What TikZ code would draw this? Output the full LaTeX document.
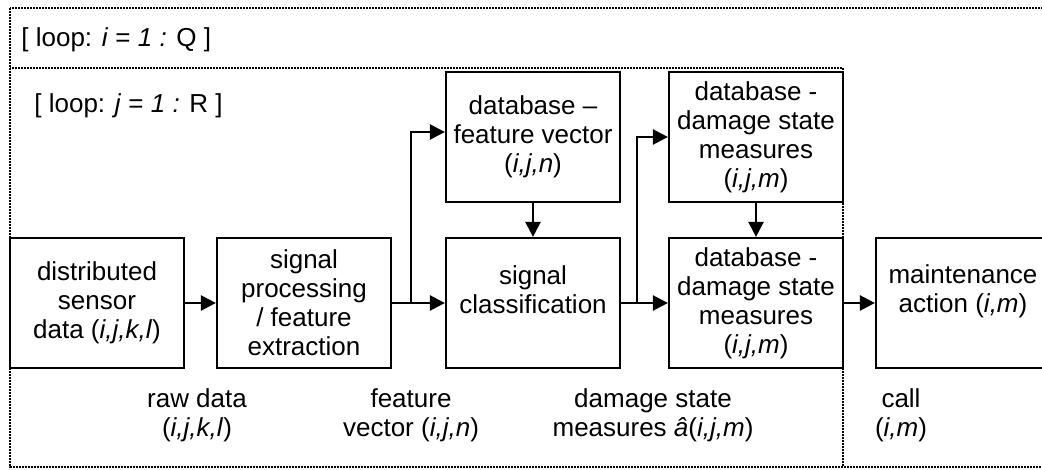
\documentclass[tikz,border=0pt]{standalone}
\usepackage{fontspec}
\setmainfont{Liberation Sans}
\usetikzlibrary{arrows.meta}

\begin{document}
\begin{tikzpicture}[x=0.5pt, y=-0.5pt,
    every node/.style={font=\fontsize{13}{14.5}\selectfont, align=center},
    block/.style={draw, line width=1.1pt, minimum width=87pt, minimum height=65pt, inner sep=0pt},
    flow/.style={line width=1.2pt, -{Triangle[length=7.5pt, width=7.5pt]}},
    loopbox/.style={line width=0.9pt, dash pattern=on 0.8pt off 0.7pt}]
    \useasboundingbox (0,0) rectangle (1042,470);
    % loops
    \draw[loopbox] (10,8) rectangle (1080,467);
    \draw[loopbox] (10,68) rectangle (843,467);
    \node[anchor=west, inner sep=0pt] (loopi) at (21,40) {[ loop: \textit{i} = \textit{1 :} Q ]};
    \node[anchor=west, inner sep=0pt] (loopj) at (34,106) {[ loop: \textit{j} = \textit{1 :} R ]};
    % blocks
    \node[block] (sensor) at (97,303) {distributed\\sensor\\data (\textit{i,j,k,l})};
    \node[block] (proc) at (304,303) {signal\\processing\\/ feature\\extraction};
    \node[block] (cls) at (533,303) {};
    \node (clstext) at ([yshift=6.5pt]cls.center) {signal\\classification};
    \node[block] (dbfv) at (533,137) {database --\\feature vector\\(\textit{i,j,n})};
    \node[block] (dbdt) at (756,137) {database -\\damage state\\measures\\(\textit{i,j,m})};
    \node[block] (dbdb) at (756,303) {database -\\damage state\\measures\\(\textit{i,j,m})};
    \node[block] (maint) at (963,303) {};
    \node (mainttext) at ([yshift=6pt]maint.center) {maintenance\\action (\textit{i,m})};
    % labels
    \node (raw) at (197,415) {raw data\\(\textit{i,j,k,l})};
    \node (fvlabel) at (411,415) {feature\\vector (\textit{i,j,n})};
    \node (dslabel) at (653,415) {damage state\\measures \textit{â}(\textit{i,j,m})};
    \node (calllabel) at (901,415) {call\\(\textit{i,m})};
    % arrows
    \coordinate (fork1) at (411,303);
    \coordinate (fork2) at (637,303);
    \draw[flow] (sensor) -- (proc);
    \draw[flow] (proc) -- (cls);
    \draw[flow] (fork1) |- ([yshift=2.5pt]dbfv.west);
    \draw[flow] (dbfv) -- (cls);
    \draw[flow] (cls) -- (dbdb);
    \draw[flow] (fork2) |- (dbdt.west);
    \draw[flow] (dbdt) -- (dbdb);
    \draw[flow] (dbdb) -- (maint);
\end{tikzpicture}
\end{document}
